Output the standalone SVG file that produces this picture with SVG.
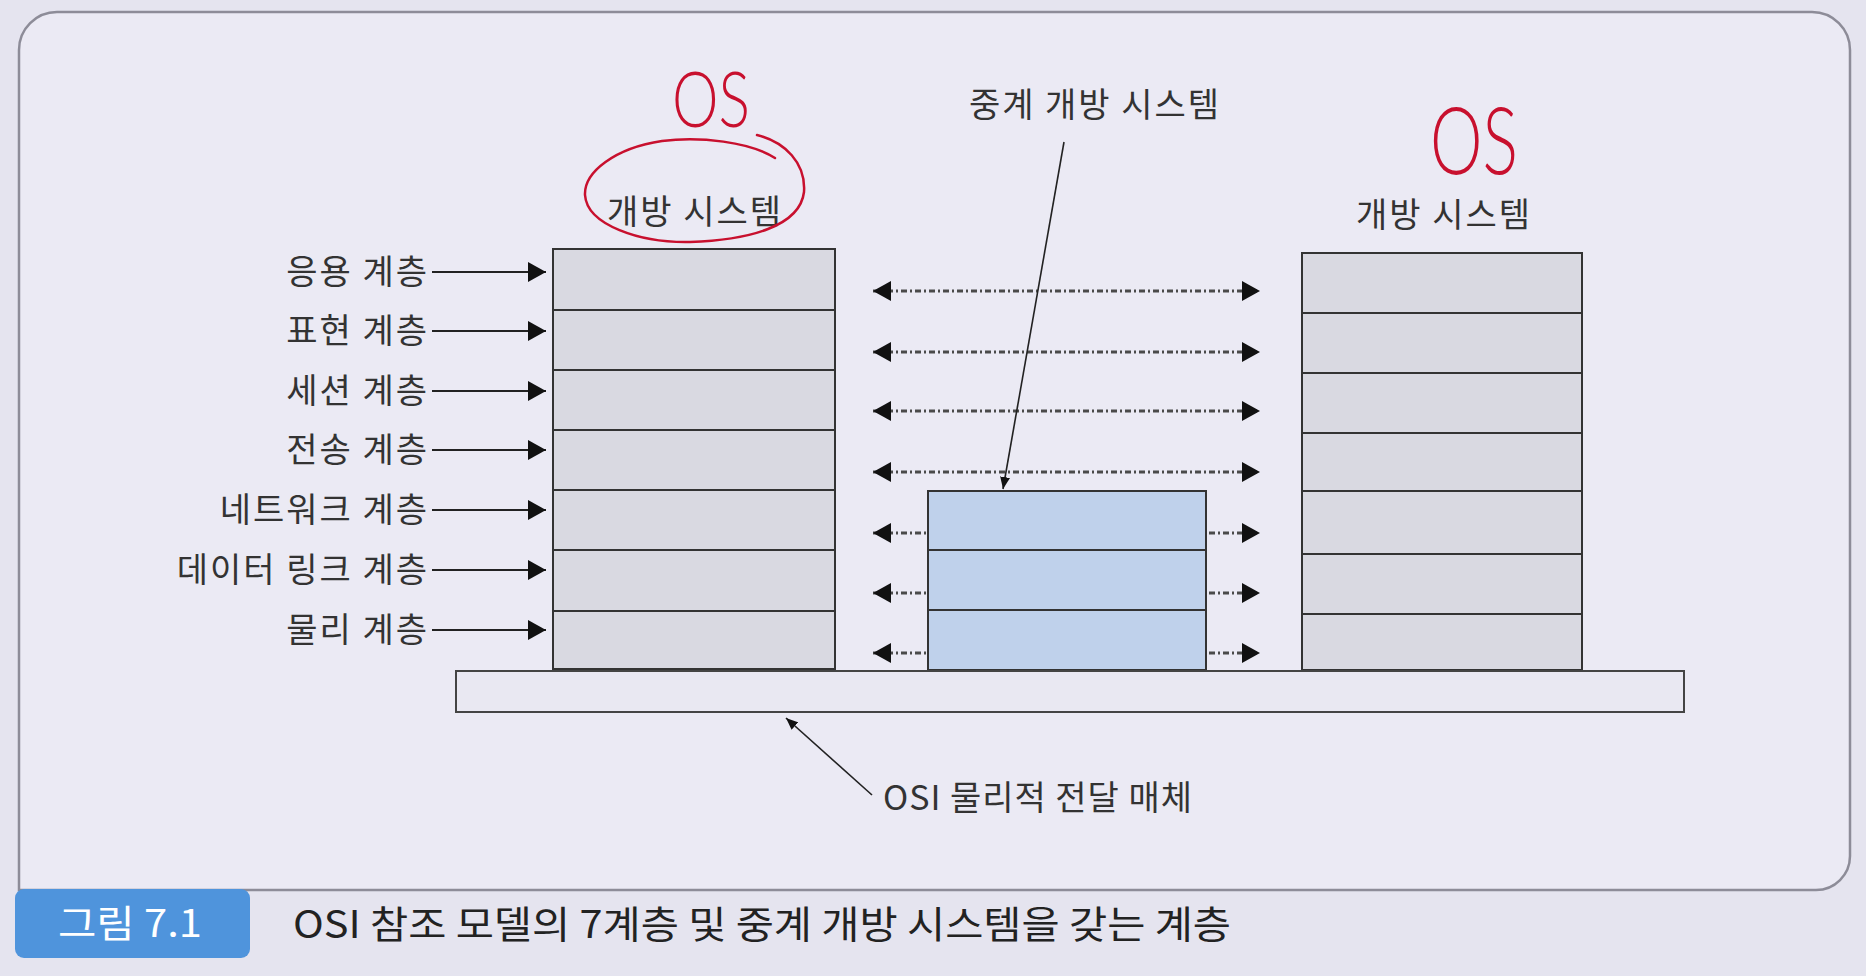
<svg xmlns="http://www.w3.org/2000/svg" width="1866" height="976" viewBox="0 0 1866 976">
<style>
.lbl{font-family:"Noto Sans CJK KR","Noto Sans",sans-serif;font-size:34px;letter-spacing:2px;fill:#333;}
.lay{fill:#d9d9e1;stroke:#333;stroke-width:2;}
.rel{fill:#bfd1eb;stroke:#333;stroke-width:2;}
.peer{stroke:#4a4a4a;stroke-width:3;fill:none;stroke-dasharray:6 3 2 3;marker-start:url(#ah);marker-end:url(#ah);}
.lar{stroke:#222;stroke-width:2;fill:none;marker-end:url(#ah);}
.ptr{stroke:#222;stroke-width:1.6;fill:none;marker-end:url(#sm);}
.red{fill:none;stroke:#c8102e;stroke-width:2.5;stroke-linecap:round;}
.os{font-family:"Lato","DejaVu Sans",sans-serif;font-weight:300;fill:#c8102e;}
</style>
<defs>
<marker id="ah" viewBox="0 0 18 20" refX="18" refY="10" markerWidth="18" markerHeight="20" markerUnits="userSpaceOnUse" orient="auto-start-reverse">
<path d="M0,0 L18,10 L0,20 Z" fill="#111"/>
</marker>
<marker id="sm" viewBox="0 0 12 10" refX="12" refY="5" markerWidth="12" markerHeight="10" markerUnits="userSpaceOnUse" orient="auto">
<path d="M0,0 L12,5 L0,10 Z" fill="#111"/>
</marker>
</defs>
<rect width="1866" height="976" fill="#e5e4ef"/>
<path id="frame" d="M19,888 V50 A38,38 0 0 1 57,12 H1812 A38,38 0 0 1 1850,50 V856 A34,34 0 0 1 1816,890 H19 Z" fill="#ebeaf4" stroke="#8d8c98" stroke-width="2.5"/>

<g id="connectors">
<line class="lar" x1="432" y1="272" x2="546" y2="272"/>
<line class="lar" x1="432" y1="331" x2="546" y2="331"/>
<line class="lar" x1="432" y1="391" x2="546" y2="391"/>
<line class="lar" x1="432" y1="450" x2="546" y2="450"/>
<line class="lar" x1="432" y1="510" x2="546" y2="510"/>
<line class="lar" x1="432" y1="570" x2="546" y2="570"/>
<line class="lar" x1="432" y1="630" x2="546" y2="630"/>
<line class="peer" x1="873" y1="291" x2="1260" y2="291"/>
<line class="peer" x1="873" y1="352" x2="1260" y2="352"/>
<line class="peer" x1="873" y1="411" x2="1260" y2="411"/>
<line class="peer" x1="873" y1="472" x2="1260" y2="472"/>
<line class="peer" x1="873" y1="533" x2="1260" y2="533"/>
<line class="peer" x1="873" y1="593" x2="1260" y2="593"/>
<line class="peer" x1="873" y1="653" x2="1260" y2="653"/>
</g>

<g id="left-system">
<rect class="lay" x="553" y="249" width="282" height="61"/>
<rect class="lay" x="553" y="310" width="282" height="60"/>
<rect class="lay" x="553" y="370" width="282" height="60"/>
<rect class="lay" x="553" y="430" width="282" height="60"/>
<rect class="lay" x="553" y="490" width="282" height="60"/>
<rect class="lay" x="553" y="550" width="282" height="61"/>
<rect class="lay" x="553" y="611" width="282" height="58"/>
<text class="lbl" x="695" y="224" text-anchor="middle">개방 시스템</text>
</g>

<g id="layer-labels">
<text class="lbl" x="429" y="284" text-anchor="end">응용 계층</text>
<text class="lbl" x="429" y="343" text-anchor="end">표현 계층</text>
<text class="lbl" x="429" y="403" text-anchor="end">세션 계층</text>
<text class="lbl" x="429" y="462" text-anchor="end">전송 계층</text>
<text class="lbl" x="429" y="522" text-anchor="end">네트워크 계층</text>
<text class="lbl" x="429" y="582" text-anchor="end">데이터 링크 계층</text>
<text class="lbl" x="429" y="642" text-anchor="end">물리 계층</text>
</g>

<g id="relay-system">
<rect class="rel" x="928" y="491" width="278" height="59"/>
<rect class="rel" x="928" y="550" width="278" height="60"/>
<rect class="rel" x="928" y="610" width="278" height="60"/>
<text class="lbl" x="1095" y="117" text-anchor="middle">중계 개방 시스템</text>
<line class="ptr" x1="1064" y1="142" x2="1003" y2="489"/>
</g>

<g id="right-system">
<rect class="lay" x="1302" y="253" width="280" height="60"/>
<rect class="lay" x="1302" y="313" width="280" height="60"/>
<rect class="lay" x="1302" y="373" width="280" height="60"/>
<rect class="lay" x="1302" y="433" width="280" height="58"/>
<rect class="lay" x="1302" y="491" width="280" height="63"/>
<rect class="lay" x="1302" y="554" width="280" height="60"/>
<rect class="lay" x="1302" y="614" width="280" height="56"/>
<text class="lbl" x="1444" y="227" text-anchor="middle">개방 시스템</text>
</g>

<g id="medium">
<rect x="456" y="671" width="1228" height="41" fill="#e9e8f2" stroke="#444" stroke-width="2"/>
<line class="ptr" x1="872" y1="795" x2="786" y2="718"/>
<text class="lbl" x="883" y="810" font-size="35" textLength="311" lengthAdjust="spacing">OSI 물리적 전달 매체</text>
</g>

<g id="annotations">
<text class="os" x="672" y="127" font-size="76" textLength="78" lengthAdjust="spacingAndGlyphs">OS</text>
<path class="red" d="M775,158 C750,142 700,136 662,141 C615,148 584,172 585,195 C587,225 640,243 690,242 C750,240 800,226 804,192 C806,163 785,142 757,135"/>
<text class="os" x="1430" y="174" font-size="92" textLength="88" lengthAdjust="spacingAndGlyphs">OS</text>
</g>

<g id="caption">
<rect x="15" y="889" width="235" height="69" rx="9" fill="#4f94dc"/>
<text x="58" y="937" font-family="Noto Sans CJK KR,Noto Sans,sans-serif" font-size="38" fill="#ffffff" textLength="144" lengthAdjust="spacingAndGlyphs">그림 7.1</text>
<text x="293" y="938" font-family="Noto Sans CJK KR,Noto Sans,sans-serif" font-size="38" fill="#222" textLength="938" lengthAdjust="spacingAndGlyphs">OSI 참조 모델의 7계층 및 중계 개방 시스템을 갖는 계층</text>
</g>
</svg>
